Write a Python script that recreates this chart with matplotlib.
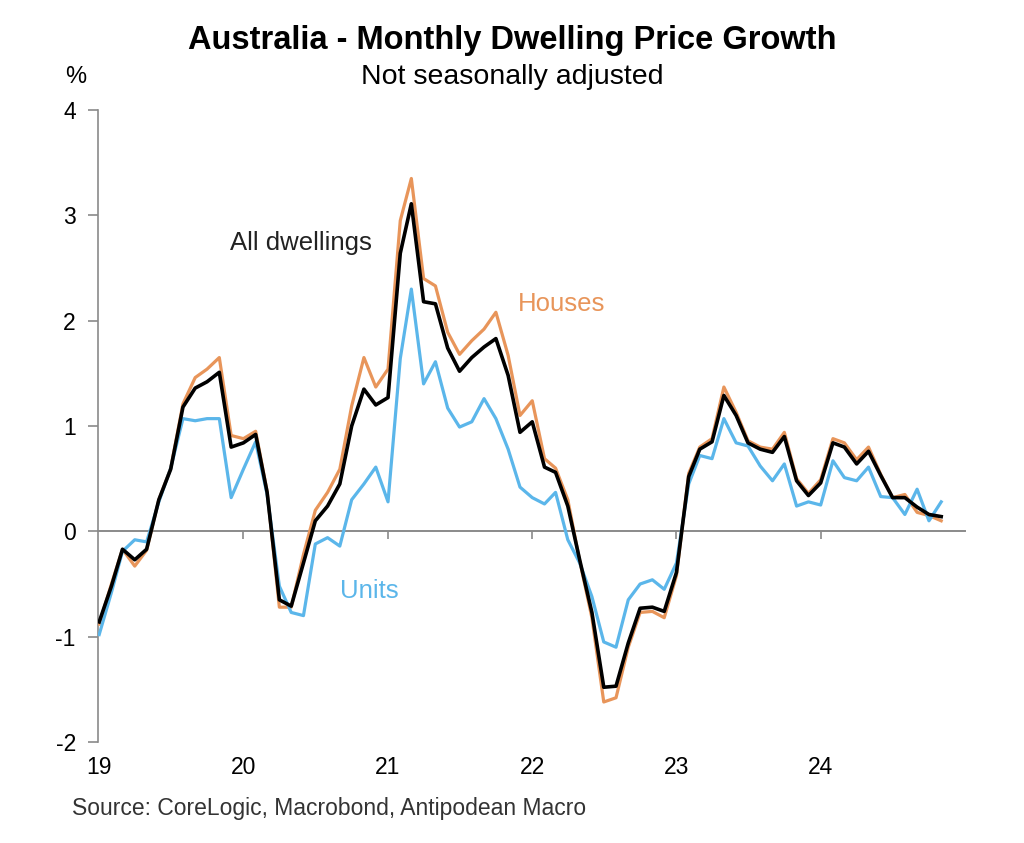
import matplotlib
matplotlib.use("Agg")
import matplotlib.pyplot as plt
import pandas as pd
import matplotlib.dates as mdates

# monthly growth, % (Jan 2019 - Nov 2024)
months = pd.date_range("2019-01-01", periods=71, freq="MS")

all_dwellings = [
    -0.86, -0.52, -0.17, -0.27, -0.17, 0.30, 0.59, 1.18, 1.36, 1.42, 1.51, 0.80,
    0.84, 0.92, 0.37, -0.65, -0.71, -0.30, 0.10, 0.24, 0.45, 1.00, 1.35, 1.20,
    1.27, 2.64, 3.11, 2.18, 2.16, 1.74, 1.52, 1.65, 1.75, 1.83, 1.48, 0.94,
    1.04, 0.61, 0.56, 0.24, -0.27, -0.77, -1.48, -1.47, -1.06, -0.73, -0.72, -0.76,
    -0.39, 0.52, 0.78, 0.85, 1.29, 1.10, 0.84, 0.78, 0.75, 0.90, 0.48, 0.34,
    0.46, 0.84, 0.80, 0.64, 0.76, 0.53, 0.32, 0.32, 0.23, 0.16, 0.14,
]
houses = [
    -0.88, -0.50, -0.17, -0.33, -0.18, 0.30, 0.60, 1.21, 1.46, 1.54, 1.65, 0.91,
    0.88, 0.95, 0.38, -0.72, -0.72, -0.22, 0.20, 0.37, 0.59, 1.19, 1.65, 1.37,
    1.54, 2.95, 3.35, 2.40, 2.33, 1.89, 1.68, 1.81, 1.92, 2.08, 1.67, 1.10,
    1.24, 0.69, 0.60, 0.30, -0.28, -0.82, -1.62, -1.58, -1.10, -0.77, -0.76, -0.82,
    -0.42, 0.55, 0.80, 0.88, 1.37, 1.13, 0.86, 0.80, 0.78, 0.94, 0.50, 0.36,
    0.49, 0.88, 0.84, 0.68, 0.80, 0.54, 0.32, 0.35, 0.18, 0.15, 0.10,
]
units = [
    -0.98, -0.58, -0.19, -0.08, -0.10, 0.28, 0.60, 1.07, 1.05, 1.07, 1.07, 0.32,
    0.59, 0.85, 0.35, -0.52, -0.77, -0.80, -0.12, -0.06, -0.14, 0.30, 0.45, 0.61,
    0.28, 1.64, 2.30, 1.40, 1.61, 1.17, 0.99, 1.04, 1.26, 1.07, 0.78, 0.42,
    0.32, 0.26, 0.37, -0.08, -0.30, -0.62, -1.05, -1.10, -0.65, -0.50, -0.46, -0.55,
    -0.30, 0.45, 0.72, 0.69, 1.07, 0.84, 0.81, 0.62, 0.48, 0.64, 0.24, 0.28,
    0.25, 0.67, 0.51, 0.48, 0.61, 0.33, 0.32, 0.16, 0.40, 0.10, 0.28,
]

ORANGE = "#E8955A"
BLUE = "#5BB6EA"
GREY = "#8a8a8a"

plt.rcParams["font.family"] = ["Liberation Sans", "DejaVu Sans"]
plt.rcParams["axes.unicode_minus"] = False

fig = plt.figure(figsize=(10.24, 8.43), dpi=100)
ax = fig.add_axes([0.0957, 0.1198, 0.8466, 0.7497])

ax.plot(months, houses, color=ORANGE, lw=2.3, zorder=3)
ax.plot(months, units, color=BLUE, lw=2.3, zorder=4)
ax.plot(months, all_dwellings, color="black", lw=2.6, zorder=5)

ax.set_ylim(-2, 4)
ax.set_xlim(pd.Timestamp("2018-12-29"), pd.Timestamp("2024-12-31"))

for s in ["top", "right", "bottom"]:
    ax.spines[s].set_visible(False)
ax.spines["left"].set_color(GREY)
ax.spines["left"].set_linewidth(1.2)
ax.set_yticks(range(-2, 5))
ax.tick_params(axis="y", direction="out", length=7, width=1.2, color=GREY,
               labelsize=16.5, pad=9)

# year labels at the bottom, year ticks on the zero line
years = pd.date_range("2019-01-01", "2024-01-01", freq="YS")
ax.set_xticks(years)
ax.xaxis.set_major_formatter(mdates.DateFormatter("%y"))
ax.tick_params(axis="x", length=0, labelsize=16.5, pad=10)

zero = ax.secondary_xaxis(1 / 3)
zero.set_xticks(years[1:])
zero.set_xticklabels([])
zero.tick_params(axis="x", direction="out", length=6, width=1.2, color=GREY)
zero.spines["bottom"].set_color(GREY)
zero.spines["bottom"].set_linewidth(1.4)
zero.spines["top"].set_visible(False)

# series labels
ax.text(pd.Timestamp("2020-05-25"), 2.74, "All dwellings", color="#222222",
        fontsize=18.5, ha="center", va="center")
ax.text(pd.Timestamp("2022-03-15"), 2.16, "Houses", color=ORANGE,
        fontsize=18.5, ha="center", va="center")
ax.text(pd.Timestamp("2020-11-15"), -0.57, "Units", color=BLUE,
        fontsize=18.5, ha="center", va="center")

fig.text(0.5, 0.952, "Australia - Monthly Dwelling Price Growth", ha="center",
         va="center", fontsize=23.5, fontweight="bold")
fig.text(0.5, 0.909, "Not seasonally adjusted", ha="center", va="center",
         fontsize=20.5)
fig.text(0.074, 0.909, "%", ha="center", va="center", fontsize=17)
fig.text(0.070, 0.041, "Source: CoreLogic, Macrobond, Antipodean Macro",
         ha="left", va="center", fontsize=16.5, color="#333333")

fig.savefig("out.png", dpi=100)
